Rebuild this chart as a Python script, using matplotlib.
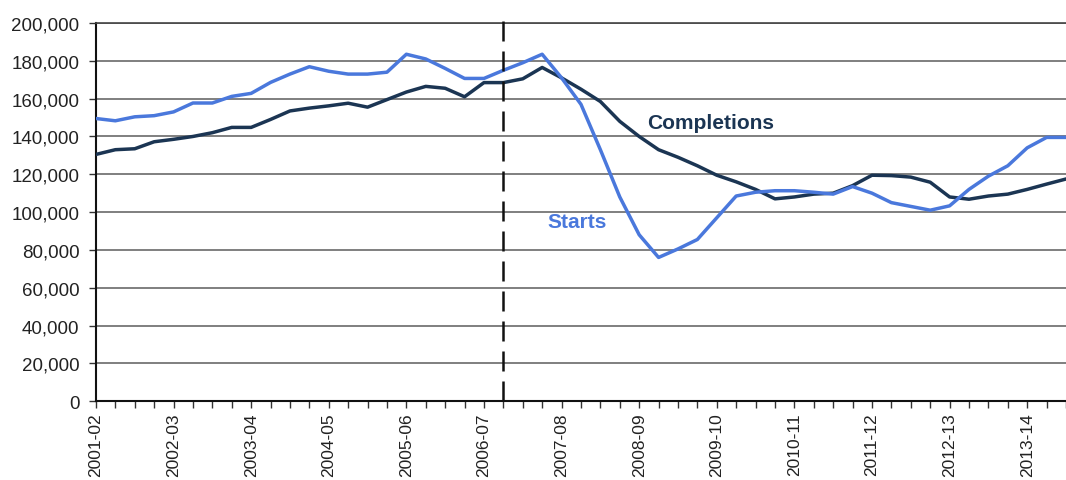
import matplotlib
matplotlib.use("Agg")
import matplotlib.pyplot as plt
import numpy as np

plt.rcParams['font.family'] = ['Liberation Sans', 'DejaVu Sans']

# Financial years (one label every 4 quarters)
years = ['2001-02', '2002-03', '2003-04', '2004-05', '2005-06', '2006-07', '2007-08',
         '2008-09', '2009-10', '2010-11', '2011-12', '2012-13', '2013-14']

# Quarterly values (rolling annual totals), starting 2001-02 Q1
starts = [149500, 148300, 150400, 151000, 153000, 157700, 157700, 161200, 162800, 168600,
          173000, 176900, 174500, 173000, 173000, 174000, 183500, 181000, 176000, 170700,
          170700, 175000, 179000, 183500, 171000, 157000, 133000, 108000, 88000, 76000,
          80500, 85500, 97000, 108500, 110500, 111300, 111300, 110500, 109500, 113500,
          110000, 105000, 103000, 101000, 103300, 112000, 119000, 124500, 134000, 139500,
          139500]
completions = [130500, 133000, 133500, 137200, 138500, 140000, 142000, 144800, 144800, 149000,
               153500, 155000, 156200, 157600, 155500, 159500, 163500, 166500, 165500, 161000,
               168500, 168500, 170500, 176500, 171000, 165000, 158500, 148000, 140000, 133000,
               129000, 124500, 119500, 116000, 112000, 107000, 108000, 109500, 110000, 114000,
               119500, 119300, 118500, 115800, 108000, 106800, 108500, 109500, 112000, 114800,
               117500]

break_index = 21  # dashed marker

x = np.arange(len(starts))

fig = plt.figure(figsize=(10.66, 4.81), dpi=100)
ax = fig.add_axes([0.090, 0.164, 0.910, 0.786])

ax.set_ylim(0, 200000)
ax.set_xlim(0, 49.74)
ax.set_yticks(np.arange(0, 200001, 20000))
ax.set_yticklabels([f"{v:,}" for v in range(0, 200001, 20000)])

ax.yaxis.grid(True, color='#6a6a6a', linewidth=1.2)
ax.set_axisbelow(True)

ax.set_xticks(x, minor=True)
ax.set_xticks(x[::4][:len(years)])
ax.set_xticklabels(years, rotation=90)

ax.tick_params(axis='y', which='major', length=5, width=1, color='#333333',
               labelsize=13.5, labelcolor='#222222', pad=7)
ax.tick_params(axis='x', which='major', length=5, width=1, color='#333333',
               labelsize=12.5, labelcolor='#222222', pad=3)
ax.tick_params(axis='x', which='minor', length=5, width=1, color='#333333')

ax.spines['right'].set_visible(False)
ax.spines['top'].set_color('#444444')
ax.spines['top'].set_linewidth(1.2)
ax.spines['left'].set_color('#111111')
ax.spines['left'].set_linewidth(1.5)
ax.spines['bottom'].set_color('#111111')
ax.spines['bottom'].set_linewidth(1.5)

ax.plot(x, completions, color='#1b3553', linewidth=2.5, solid_joinstyle='round', zorder=3)
ax.plot(x, starts, color='#4a78dc', linewidth=2.5, solid_joinstyle='round', zorder=4)

ax.plot([break_index, break_index], [0, 205000], color='#111111', linewidth=1.8,
        linestyle=(0, (8, 4)), clip_on=False, zorder=5)

ax.text(31.7, 147600, 'Completions', color='#1b3553', fontsize=15, fontweight='bold',
        va='center', ha='center')
ax.text(24.8, 95000, 'Starts', color='#4a78dc', fontsize=15, fontweight='bold',
        va='center', ha='center')

fig.savefig('out.png', dpi=100)
